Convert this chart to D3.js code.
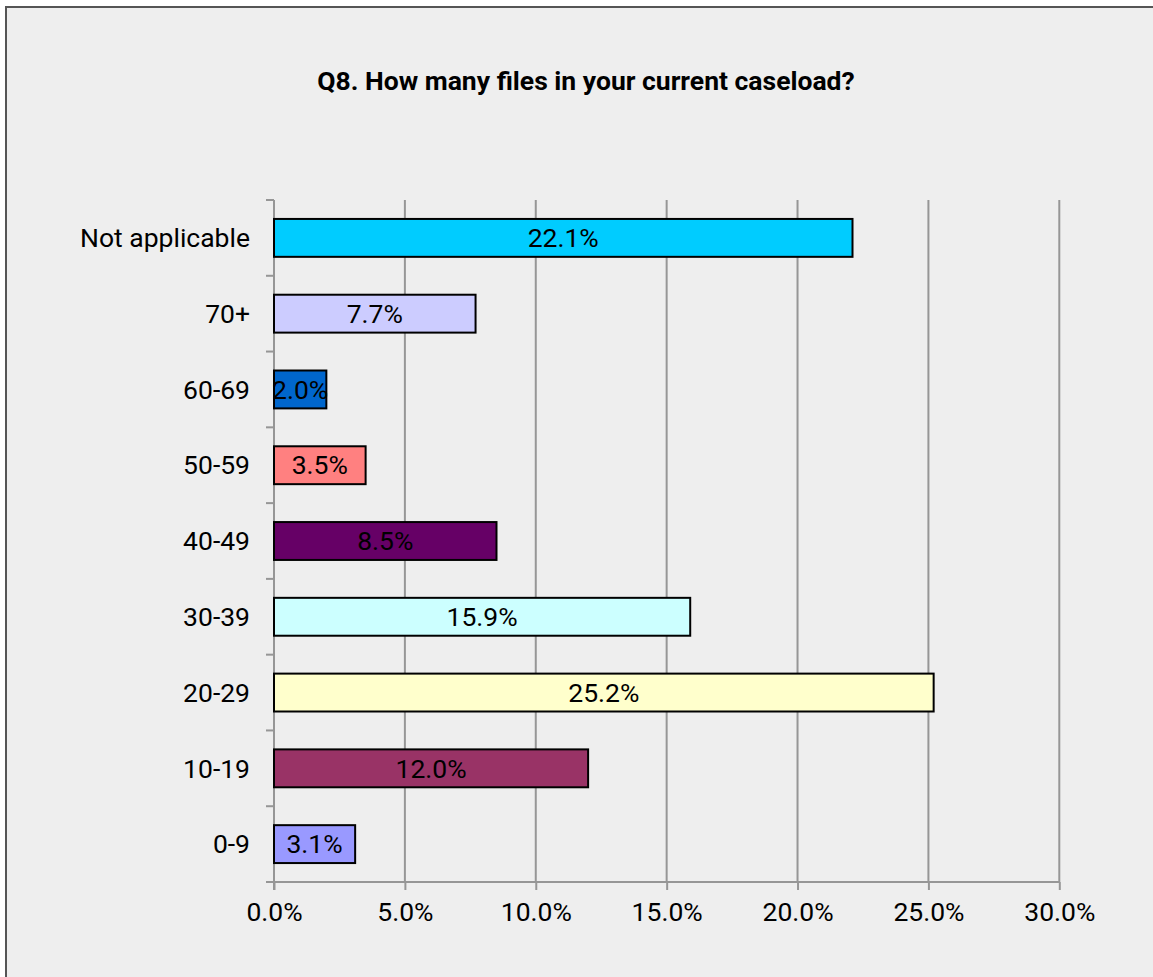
<!DOCTYPE html>
<html>
<head>
<meta charset="utf-8">
<script src="https://d3js.org/d3.v7.min.js"></script>
<style>
html,body{margin:0;padding:0;background:#fff;}
svg{display:block;}
</style>
</head>
<body>
<svg id="chart" width="1153" height="977"></svg>
<script>
const categories = ["Not applicable","70+","60-69","50-59","40-49","30-39","20-29","10-19","0-9"];
const values = [22.1, 7.7, 2.0, 3.5, 8.5, 15.9, 25.2, 12.0, 3.1];
const colors = ["#00CCFF","#CCCCFF","#0066CC","#FF8080","#660066","#CCFFFF","#FFFFCC","#993366","#9999FF"];
const ticks = [0,5,10,15,20,25,30];
const title = "Q8. How many files in your current caseload?";

(function(){
const svg = d3.select("#chart");
const font = "Roboto, 'Liberation Sans', Arial, sans-serif";
const fs = 26.5;

// chart frame
svg.append("rect").attr("x",6).attr("y",7).attr("width",1160).attr("height",990)
  .attr("fill","#EEEEEE").attr("stroke","#555555").attr("stroke-width",2);

const pL = 274, pR = 1059.3, pT = 200, pB = 882;
const x = d3.scaleLinear().domain([0,30]).range([pL,pR]);
const y = d3.scaleBand().domain(categories).range([pT,pB]).paddingInner(0.5).paddingOuter(0.25);
const yb = d3.scaleBand().domain(categories).range([pT,pB]);

// title
svg.append("text").attr("x",586).attr("y",90).attr("text-anchor","middle")
  .attr("font-family",font).attr("font-weight","bold").attr("font-size",fs)
  .attr("fill","#000").text(title);

// gridlines
svg.append("g").selectAll("line").data(ticks.slice(1)).join("line")
  .attr("x1",d=>x(d)).attr("x2",d=>x(d)).attr("y1",pT).attr("y2",pB)
  .attr("stroke","#969696").attr("stroke-width",2);

// x axis
const xAxis = d3.axisBottom(x).tickValues(ticks).tickSize(8).tickPadding(12)
  .tickFormat(d=>d3.format(".1f")(d)+"%");
const gx = svg.append("g").attr("transform",`translate(0,${pB})`).call(xAxis);
gx.select(".domain").remove();
gx.selectAll(".tick line").attr("stroke","#969696").attr("stroke-width",2);
gx.selectAll(".tick text").attr("font-family",font).attr("font-size",fs).attr("fill","#000");
svg.append("line").attr("x1",pL-8).attr("x2",pR).attr("y1",pB).attr("y2",pB)
  .attr("stroke","#969696").attr("stroke-width",2);

// y axis
svg.append("line").attr("x1",pL).attr("x2",pL).attr("y1",pT).attr("y2",pB+8)
  .attr("stroke","#969696").attr("stroke-width",2);
const bounds = categories.map(c=>yb(c));
svg.append("g").selectAll("line").data(bounds).join("line")
  .attr("x1",pL-8).attr("x2",pL).attr("y1",d=>d).attr("y2",d=>d)
  .attr("stroke","#969696").attr("stroke-width",2);
svg.append("g").selectAll("text").data(categories).join("text")
  .attr("x",pL-24).attr("y",d=>yb(d)+yb.bandwidth()/2).attr("dy","0.35em")
  .attr("text-anchor","end").attr("font-family",font).attr("font-size",fs).attr("fill","#000")
  .text(d=>d);

// bars
const data = categories.map((c,i)=>({c, v:values[i], col:colors[i]}));
svg.append("g").selectAll("rect").data(data).join("rect")
  .attr("x",x(0)).attr("y",d=>y(d.c)).attr("width",d=>x(d.v)-x(0)).attr("height",y.bandwidth())
  .attr("fill",d=>d.col).attr("stroke","#000").attr("stroke-width",2);

// value labels
svg.append("g").selectAll("text").data(data).join("text")
  .attr("x",d=>(x(0)+x(d.v))/2).attr("y",d=>y(d.c)+y.bandwidth()/2).attr("dy","0.35em")
  .attr("text-anchor","middle").attr("font-family",font).attr("font-size",fs).attr("fill","#000")
  .text(d=>d.v.toFixed(1)+"%");
})();
</script>
</body>
</html>
